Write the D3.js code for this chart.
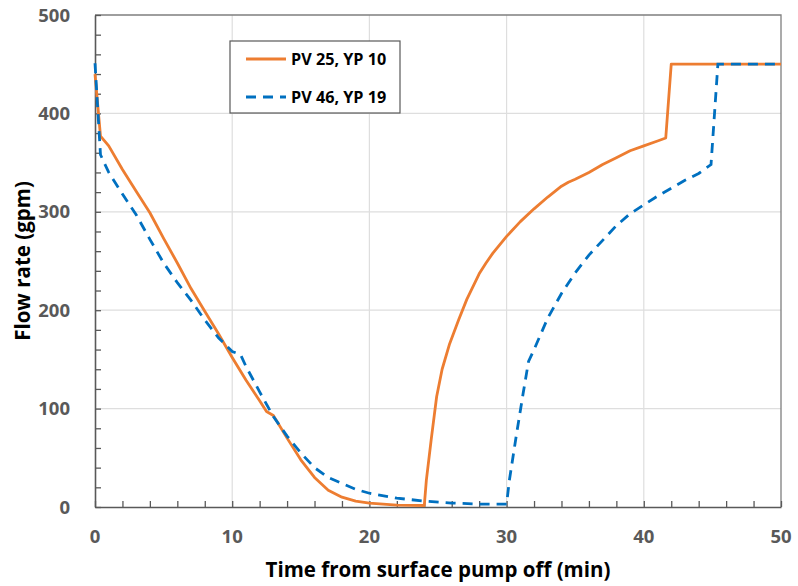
<!DOCTYPE html>
<html>
<head>
<meta charset="utf-8">
<script src="https://cdn.jsdelivr.net/npm/d3@7"></script>
<style>
  body { margin: 0; background: #fff; }
  svg { display: block; font-family: "Open Sans", "Liberation Sans", sans-serif; }
</style>
</head>
<body>
<div id="chart"></div>
<script>
var svgWidth = 798;
var svgHeight = 586;

var margin = { top: 15, right: 17, bottom: 79, left: 95 };
var width = svgWidth - margin.left - margin.right;
var height = svgHeight - margin.top - margin.bottom;

// series: PV 25, YP 10
var pv25Time = [0, 0.4, 1, 2, 3, 4, 5, 6, 7, 8, 9, 10, 11, 12, 12.5, 13, 14, 15, 16, 17, 18, 19, 20, 22, 24,
  24.15, 24.5, 24.9, 25.3, 25.85, 26.5, 27.1, 28, 28.5, 29, 30, 31, 32, 33, 34, 34.5, 35, 36, 37, 38, 39, 40, 41, 41.6, 42, 50];
var pv25Flow = [440, 377, 367, 343, 321, 299, 273, 248, 222, 199, 176, 152, 129, 108, 97, 93, 70, 48, 30, 17, 10, 6, 4, 2, 1.5,
  27, 68, 112, 140, 166, 190, 211, 237, 248, 258, 275, 290, 303, 315, 326, 330, 333, 340, 348, 355, 362, 367, 372, 375, 450, 450];

// series: PV 46, YP 19
var pv46Time = [0, 0.4, 1, 2, 3, 4, 5, 6, 7, 8, 9, 10, 10.6, 11, 12, 13, 14, 15, 16, 17, 18, 19, 20, 22, 24, 26, 28, 30,
  30.2, 30.7, 31.2, 31.6, 32, 33, 34, 35, 36, 37, 38, 39, 40, 41, 42, 43, 44, 44.9, 45.4, 50];
var pv46Flow = [451, 358, 340, 318, 297, 272, 248, 228, 210, 190, 172, 158, 155, 143, 117, 92, 72, 55, 40, 30, 24, 18, 14, 9, 6, 4, 3, 3,
  27, 72, 115, 148, 160, 192, 217, 238, 256, 271, 286, 298, 307, 316, 324, 332, 339, 348, 450, 450];

var xTicks = [0, 10, 20, 30, 40, 50];
var yTicks = [0, 100, 200, 300, 400, 500];
var seriesNames = ["PV 25, YP 10", "PV 46, YP 19"];

var svg = d3.select("#chart")
  .append("svg")
  .attr("width", svgWidth)
  .attr("height", svgHeight);

var chartGroup = svg.append("g")
  .attr("transform", `translate(${margin.left}, ${margin.top})`);

var xScale = d3.scaleLinear().domain([0, 50]).range([0, width]);
var yScale = d3.scaleLinear().domain([0, 500]).range([height, 0]);

// gridlines
chartGroup.append("g")
  .selectAll("line")
  .data(xTicks.slice(1, -1))
  .enter()
  .append("line")
  .attr("x1", d => xScale(d)).attr("x2", d => xScale(d))
  .attr("y1", 0).attr("y2", height)
  .attr("stroke", "#dedede").attr("stroke-width", 1.2);

chartGroup.append("g")
  .selectAll("line")
  .data(yTicks.slice(1, -1))
  .enter()
  .append("line")
  .attr("x1", 0).attr("x2", width)
  .attr("y1", d => yScale(d)).attr("y2", d => yScale(d))
  .attr("stroke", "#dedede").attr("stroke-width", 1.2);

// top and right frame
chartGroup.append("path")
  .attr("d", `M0,0H${width}V${height}`)
  .attr("fill", "none")
  .attr("stroke", "#7f7f7f")
  .attr("stroke-width", 1.3);

// minor ticks (inside)
var xMinor = d3.range(0, 51, 2);
var yMinor = d3.range(0, 501, 20);

var bottomAxis = d3.axisBottom(xScale)
  .tickValues(xMinor)
  .tickSizeInner(-6)
  .tickSizeOuter(0)
  .tickFormat("");

var leftAxis = d3.axisLeft(yScale)
  .tickValues(yMinor)
  .tickSizeInner(-6)
  .tickSizeOuter(0)
  .tickFormat("");

var xAxis = chartGroup.append("g")
  .attr("transform", `translate(0, ${height})`)
  .call(bottomAxis);

var yAxis = chartGroup.append("g")
  .call(leftAxis);

[xAxis, yAxis].forEach(function(ax) {
  ax.select(".domain").attr("stroke", "#595959").attr("stroke-width", 1.6);
  ax.selectAll(".tick line").attr("stroke", "#595959").attr("stroke-width", 1.3);
});

// tick labels
chartGroup.append("g")
  .selectAll("text")
  .data(xTicks)
  .enter()
  .append("text")
  .attr("x", d => xScale(d))
  .attr("y", height + 36)
  .attr("text-anchor", "middle")
  .attr("font-size", 18.5)
  .attr("font-weight", "bold")
  .attr("fill", "#595959")
  .text(d => d);

chartGroup.append("g")
  .selectAll("text")
  .data(yTicks)
  .enter()
  .append("text")
  .attr("x", -25)
  .attr("y", d => yScale(d) + 6.5)
  .attr("text-anchor", "end")
  .attr("font-size", 18.5)
  .attr("font-weight", "bold")
  .attr("fill", "#595959")
  .text(d => d);

// axis titles
chartGroup.append("text")
  .attr("x", width / 2)
  .attr("y", height + 70)
  .attr("text-anchor", "middle")
  .attr("font-size", 20.5)
  .attr("font-weight", "bold")
  .attr("fill", "#000")
  .text("Time from surface pump off (min)");

chartGroup.append("text")
  .attr("transform", "rotate(-90)")
  .attr("x", -height / 2)
  .attr("y", -65)
  .attr("text-anchor", "middle")
  .attr("font-size", 20.5)
  .attr("font-weight", "bold")
  .attr("fill", "#000")
  .text("Flow rate (gpm)");

// lines
var pv25Line = d3.line()
  .x((d, i) => xScale(pv25Time[i]))
  .y(d => yScale(d));

var pv46Line = d3.line()
  .x((d, i) => xScale(pv46Time[i]))
  .y(d => yScale(d));

chartGroup.append("path")
  .datum(pv25Flow)
  .attr("d", pv25Line)
  .attr("fill", "none")
  .attr("stroke", "#ED7D31")
  .attr("stroke-width", 2.8)
  .attr("stroke-linejoin", "round");

chartGroup.append("path")
  .datum(pv46Flow)
  .attr("d", pv46Line)
  .attr("fill", "none")
  .attr("stroke", "#0070C0")
  .attr("stroke-width", 2.8)
  .attr("stroke-dasharray", "10,7");

// legend
var legend = svg.append("g")
  .attr("transform", "translate(230, 41)");

legend.append("rect")
  .attr("width", 170)
  .attr("height", 72)
  .attr("fill", "#fff")
  .attr("stroke", "#595959")
  .attr("stroke-width", 1.2);

var legendStyles = [
  { color: "#ED7D31", dash: null },
  { color: "#0070C0", dash: "10,7" }
];

seriesNames.forEach(function(name, i) {
  var row = legend.append("g").attr("transform", `translate(0, ${18 + i * 38})`);
  row.append("line")
    .attr("x1", 16).attr("x2", 56)
    .attr("y1", 0).attr("y2", 0)
    .attr("stroke", legendStyles[i].color)
    .attr("stroke-width", 2.8)
    .attr("stroke-dasharray", legendStyles[i].dash);
  row.append("text")
    .attr("x", 61)
    .attr("y", 6)
    .attr("font-size", 16.2)
    .attr("font-weight", "bold")
    .attr("fill", "#000")
    .text(name);
});
</script>
</body>
</html>
